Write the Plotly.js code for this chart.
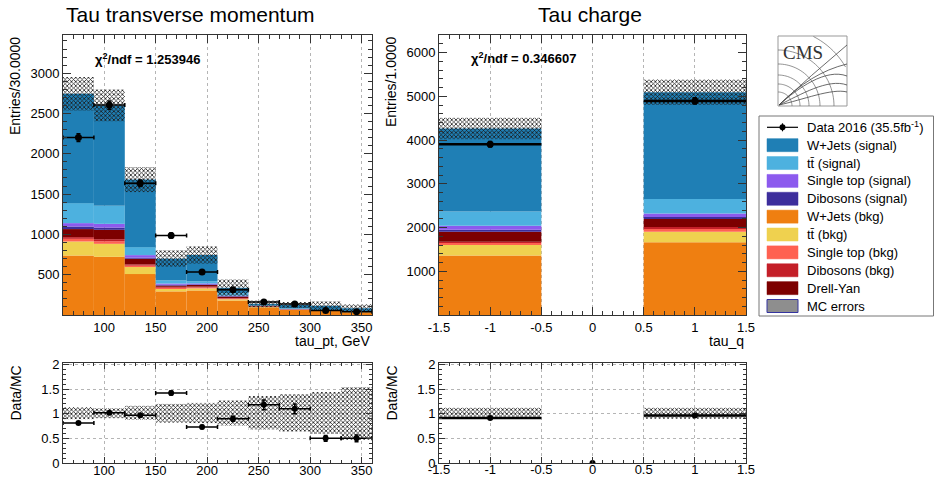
<!DOCTYPE html>
<html><head><meta charset="utf-8">
<script src="https://cdn.plot.ly/plotly-3.0.1.min.js"></script>
<style>html,body{margin:0;padding:0;background:#fff}#chart{width:934px;height:477px}</style>
</head><body><div id="chart"></div>
<script>
// ---------- tau_pt (bin centres, 30 GeV bins) ----------
const ptBins = [75,105,135,165,195,225,255,285,315,345];
const ptHalfWidth = [15,15,15,15,15,15,15,15,15,15];
const ptWjetsBkg = [738,722,508,293,305,180,95,62,50,35];
const ptTTbarBkg = [174,161,87,29,25,15,4,3,2,2];
const ptStopBkg  = [33,32,17,16,12,8,3,2,1,1];
const ptDibosBkg = [21,25,16,12,10,7,3,2,2,1];
const ptDY       = [100,117,70,15,20,18,6,3,2,2];
const ptDibosSig = [32,28,14,10,8,6,2,1,1,1];
const ptStopSig  = [42,46,31,15,12,6,2,2,1,1];
const ptTTbarSig = [248,223,99,40,26,30,6,6,4,3];
const ptWjetsSig = [1357,1246,838,270,327,68,17,43,51,38];
const ptMCErr    = [207,197,155,103,107,103,43,37,55,50];
const ptData     = [2201,2605,1635,987,533,313,160,136,57,41];
const ptDataErr  = [47,51,40,31,23,18,13,12,8,6];
const ptRatio    = [0.81,1.02,0.97,1.42,0.73,0.90,1.18,1.10,0.50,0.50];
const ptRatioErr = [0.02,0.02,0.03,0.04,0.03,0.05,0.10,0.10,0.06,0.07];
const ptBandLow  = [0.89,0.91,0.88,0.82,0.81,0.76,0.68,0.64,0.59,0.47];
const ptBandHigh = [1.135,1.11,1.16,1.20,1.22,1.27,1.36,1.40,1.44,1.54];

// ---------- tau_q ----------
const qBins = [-1,0,1];
const qHalfWidth = [0.5,0.5,0.5];
const qWjetsBkg = [1358,0,1662];
const qTTbarBkg = [244,0,244];
const qStopBkg  = [46,0,62];
const qDibosBkg = [30,0,46];
const qDY       = [228,0,182];
const qDibosSig = [46,0,44];
const qStopSig  = [91,0,84];
const qTTbarSig = [327,0,329];
const qWjetsSig = [1895,0,2442];
const qMCErr    = [248,0,290];
const qData     = [3907,0,4897];
const qDataErr  = [63,0,70];
const qRatio    = [0.916,0,0.962];
const qRatioErr = [0.02,0,0.02];
const qBandLow  = [0.90,0,0.90];
const qBandHigh = [1.12,0,1.12];

// ---------- labels ----------
const titles = ['Tau transverse momentum','Tau charge'];
const chi2Text = ['1.253946','0.346607'];
const yTitles = ['Entries/30.0000','Entries/1.0000'];
const xTitles = ['tau_pt, GeV','tau_q'];
const ratioTitle = 'Data/MC';
const dataLabel = 'Data 2016 (35.5fb<sup>-1</sup>)';
const errLabel = 'MC errors';
const qTickVals = [-1.5,-1,-0.5,0,0.5,1,1.5];
const qTickText = ['-1.5','-1','-0.5','0','0.5','1','1.5'];

// stack from bottom to top
const comps = [
  {name:'W+Jets (bkg)',       color:'#ef7f11', pt:ptWjetsBkg, q:qWjetsBkg},
  {name:'tt\u0304 (bkg)',     color:'#efd14f', pt:ptTTbarBkg, q:qTTbarBkg},
  {name:'Single top (bkg)',   color:'#ff6151', pt:ptStopBkg,  q:qStopBkg},
  {name:'Dibosons (bkg)',     color:'#c41f28', pt:ptDibosBkg, q:qDibosBkg},
  {name:'Drell-Yan',          color:'#7d0000', pt:ptDY,       q:qDY},
  {name:'Dibosons (signal)',  color:'#3d2e9c', pt:ptDibosSig, q:qDibosSig},
  {name:'Single top (signal)',color:'#8c5aee', pt:ptStopSig,  q:qStopSig},
  {name:'tt\u0304 (signal)',  color:'#4db1df', pt:ptTTbarSig, q:qTTbarSig},
  {name:'W+Jets (signal)',    color:'#1f7fb5', pt:ptWjetsSig, q:qWjetsSig}
];
const legendOrder = ['W+Jets (signal)','tt\u0304 (signal)','Single top (signal)','Dibosons (signal)',
  'W+Jets (bkg)','tt\u0304 (bkg)','Single top (bkg)','Dibosons (bkg)','Drell-Yan'];

const F = 'Liberation Sans, Arial, Helvetica, sans-serif';
const W = 934, H = 477;
const X = p => p / W, Y = p => 1 - p / H;
const hatch = {shape:'x', size:3, solidity:0.45, fillmode:'replace'};

const traces = [];
function addStack(key, bins, half, xa, ya) {
  const base = bins.map(() => 0);
  comps.forEach(c => {
    traces.push({type:'bar', x:bins, y:c[key], base:base.slice(), width:half.map(h=>2*h),
      xaxis:xa, yaxis:ya, name:c.name, marker:{color:c.color, line:{width:0}}, hoverinfo:'skip'});
    c[key].forEach((v,i) => base[i] += v);
  });
  return base;
}
// tau_pt main
const ptTot = addStack('pt', ptBins, ptHalfWidth, 'x', 'y');
traces.push({type:'bar', x:ptBins, base:ptTot.map((t,i)=>t-ptMCErr[i]), y:ptMCErr.map(e=>2*e),
  width:ptHalfWidth.map(h=>2*h), xaxis:'x', yaxis:'y', marker:{color:'#1a1a1a', line:{width:0}, pattern:hatch}});
traces.push({type:'scatter', mode:'markers', x:ptBins, y:ptData, xaxis:'x', yaxis:'y',
  marker:{color:'#000', size:7},
  error_y:{type:'data', array:ptDataErr, color:'#000', thickness:1.5, width:2},
  error_x:{type:'data', array:ptHalfWidth, color:'#000', thickness:1.5, width:2}});
// tau_q main
const qTot = addStack('q', qBins, qHalfWidth, 'x2', 'y2');
traces.push({type:'bar', x:qBins, base:qTot.map((t,i)=>t-qMCErr[i]), y:qMCErr.map(e=>2*e),
  width:qHalfWidth.map(h=>2*h), xaxis:'x2', yaxis:'y2', marker:{color:'#1a1a1a', line:{width:0}, pattern:hatch}});
const qIdx = qData.map((v,i)=>i).filter(i=>qData[i]>0);
traces.push({type:'scatter', mode:'markers', x:qIdx.map(i=>qBins[i]), y:qIdx.map(i=>qData[i]), xaxis:'x2', yaxis:'y2',
  marker:{color:'#000', size:7},
  error_y:{type:'data', array:qIdx.map(i=>qDataErr[i]), color:'#000', thickness:1.5, width:2},
  error_x:{type:'data', array:qIdx.map(i=>qHalfWidth[i]), color:'#000', thickness:2.5, width:0}});
// ratios
traces.push({type:'bar', x:ptBins, base:ptBandLow, y:ptBandHigh.map((h,i)=>h-ptBandLow[i]),
  width:ptHalfWidth.map(h=>2*h), xaxis:'x3', yaxis:'y3', marker:{color:'#1a1a1a', line:{width:0}, pattern:hatch}});
traces.push({type:'scatter', mode:'markers', x:ptBins, y:ptRatio, xaxis:'x3', yaxis:'y3',
  marker:{color:'#000', size:6},
  error_y:{type:'data', array:ptRatioErr, color:'#000', thickness:1.5, width:2},
  error_x:{type:'data', array:ptHalfWidth, color:'#000', thickness:1.5, width:2}});
traces.push({type:'bar', x:qBins, base:qBandLow, y:qBandHigh.map((h,i)=>h-qBandLow[i]),
  width:qHalfWidth.map(h=>2*h), xaxis:'x4', yaxis:'y4', marker:{color:'#1a1a1a', line:{width:0}, pattern:hatch}});
traces.push({type:'scatter', mode:'markers', x:qBins, y:qRatio, xaxis:'x4', yaxis:'y4',
  marker:{color:'#000', size:6},
  error_y:{type:'data', array:qRatioErr, color:'#000', thickness:1.5, width:2},
  error_x:{type:'data', array:qHalfWidth.map((h,i)=>qData[i]>0?h:0), color:'#000', thickness:2.5, width:0}});

function ax(o, len, mlen, minorD) {
  return Object.assign({
    showline:true, linecolor:'#333', linewidth:1, mirror:'ticks',
    ticks:'inside', ticklen:len, tickcolor:'#333', tickwidth:1,
    minor:{ticks:'inside', ticklen:mlen, tickcolor:'#333', tickmode:'linear', tick0:0, dtick:minorD, showgrid:false},
    zeroline:false, showgrid:false, gridcolor:'#b5b5b5', griddash:'dot', gridwidth:1,
    tickfont:{family:F, size:13, color:'#000'}, fixedrange:true
  }, o);
}
const layout = {
  width:W, height:H, margin:{l:0,r:0,t:0,b:0}, paper_bgcolor:'#fff', plot_bgcolor:'#fff',
  barmode:'overlay', showlegend:false, font:{family:F, size:13, color:'#000'},
  xaxis: ax({domain:[X(63),X(372)], anchor:'y', range:[60,360], tickmode:'linear', tick0:0, dtick:50, showgrid:true}, 8, 4, 10),
  yaxis: ax({domain:[Y(315),Y(35)], anchor:'x', range:[0,3474], tickmode:'array',
    tickvals:[0,500,1000,1500,2000,2500,3000], ticktext:['','500','1000','1500','2000','2500','3000']}, 8, 4, 100),
  xaxis2: ax({domain:[X(439),X(746)], anchor:'y2', range:[-1.5,1.5], tickmode:'array', tickvals:qTickVals, ticktext:qTickText, showgrid:true}, 8, 4, 0.1),
  yaxis2: ax({domain:[Y(315),Y(35)], anchor:'x2', range:[0,6404], tickmode:'array',
    tickvals:[0,1000,2000,3000,4000,5000,6000], ticktext:['','1000','2000','3000','4000','5000','6000']}, 8, 4, 200),
  xaxis3: ax({domain:[X(63),X(372)], anchor:'y3', range:[60,360], tickmode:'linear', tick0:0, dtick:50, showgrid:true, ticklabelstandoff:-5}, 6, 3, 10),
  yaxis3: ax({domain:[Y(463),Y(363)], anchor:'x3', range:[0,2.03], tickmode:'array',
    tickvals:[0,0.5,1,1.5,2], ticktext:['0','0.5','1','1.5','2'], showgrid:true}, 6, 3, 0.1),
  xaxis4: ax({domain:[X(439),X(746)], anchor:'y4', range:[-1.5,1.5], tickmode:'array', tickvals:qTickVals, ticktext:qTickText, showgrid:true, ticklabelstandoff:-6}, 6, 3, 0.1),
  yaxis4: ax({domain:[Y(463),Y(363)], anchor:'x4', range:[0,2.03], tickmode:'array',
    tickvals:[0,0.5,1,1.5,2], ticktext:['0','0.5','1','1.5','2'], showgrid:true}, 6, 3, 0.1)
};

const ann = [], shapes = [];
function text(x, y, t, o) {
  ann.push(Object.assign({xref:'paper', yref:'paper', x:X(x), y:Y(y), text:t, showarrow:false,
    xanchor:'center', yanchor:'middle', font:{family:F, size:13, color:'#000'}}, o||{}));
}
text(190, 15, titles[0], {font:{family:F, size:21, color:'#000'}});
text(590, 15, titles[1], {font:{family:F, size:21, color:'#000'}});
text(93, 59, '<b>\u03c7<sup>2</sup>/ndf = ' + chi2Text[0] + '</b>', {xanchor:'left'});
text(469, 58, '<b>\u03c7<sup>2</sup>/ndf = ' + chi2Text[1] + '</b>', {xanchor:'left'});
text(15, 35, yTitles[0], {textangle:-90, yanchor:'top', font:{family:F, size:14, color:'#000'}});
text(391, 35, yTitles[1], {textangle:-90, yanchor:'top', font:{family:F, size:14, color:'#000'}});
text(372, 341, xTitles[0], {xanchor:'right', font:{family:F, size:14, color:'#000'}});
text(746, 341, xTitles[1], {xanchor:'right', font:{family:F, size:14, color:'#000'}});
text(15, 364, ratioTitle, {textangle:-90, yanchor:'top', font:{family:F, size:14, color:'#000'}});
text(391, 364, ratioTitle, {textangle:-90, yanchor:'top', font:{family:F, size:14, color:'#000'}});

function rectPx(x0,y0,x1,y1,o){shapes.push(Object.assign({type:'rect',xref:'paper',yref:'paper',
  x0:X(x0),x1:X(x1),y0:Y(y0),y1:Y(y1)},o));}
function linePx(x0,y0,x1,y1,o){shapes.push(Object.assign({type:'line',xref:'paper',yref:'paper',
  x0:X(x0),x1:X(x1),y0:Y(y0),y1:Y(y1)},o));}
function pathPx(d,o){
  const s = d.map(seg => seg[0] + seg.slice(1).map((v,k)=> (k%2===0? X(v):Y(v)).toFixed(5)).join(',')).join(' ');
  shapes.push(Object.assign({type:'path',xref:'paper',yref:'paper',path:s},o));
}

// legend
rectPx(759,116,933.5,316,{line:{color:'#777',width:1},fillcolor:'#fff',layer:'above'});
const rowY = i => 127.3 + i*17.87;
linePx(767,rowY(0),798,rowY(0),{line:{color:'#000',width:1.2}});
linePx(782.5,rowY(0)-4,782.5,rowY(0)+4,{line:{color:'#000',width:1.2}});
shapes.push({type:'circle',xref:'paper',yref:'paper',x0:X(779.5),x1:X(785.5),y0:Y(rowY(0)+3),y1:Y(rowY(0)-3),
  fillcolor:'#000',line:{width:0}});
text(805, rowY(0), dataLabel, {xanchor:'left'});
legendOrder.forEach((nm,k) => {
  const c = comps.find(cc=>cc.name===nm), i = k+1;
  rectPx(767,rowY(i)-6.5,798,rowY(i)+6.5,{fillcolor:c.color,line:{color:c.color,width:0.5}});
  text(805, rowY(i), nm, {xanchor:'left'});
});
rectPx(767,rowY(10)-6.5,798,rowY(10)+6.5,{fillcolor:'#8e8e8e',line:{color:'#3434a0',width:1}});
text(805, rowY(10), errLabel, {xanchor:'left'});

// CMS logo
rectPx(778,36,847,106,{line:{color:'#999',width:1},fillcolor:'#fff'});
text(803, 52, 'CMS', {font:{family:'Liberation Serif, DejaVu Serif, serif', size:19, color:'#333'}});
[14,22,31,42,56,78].forEach(r => {
  const pts = [];
  for (let a=0; a<=90; a+=3) {
    const t = a*Math.PI/180, x = 778 + r*Math.cos(t), y = 106 - r*Math.sin(t);
    if (x <= 847 && y >= 36) pts.push([x,y]);
  }
  if (pts.length>1) pathPx(pts.map((p,i)=>[i?'L':'M',p[0],p[1]]),{line:{color:'#666',width:0.7}});
});
pathPx([['M',779,105],['Q',810,76,847,45]],{line:{color:'#444',width:0.8}});
pathPx([['M',779,105],['C',800,84,822,70,847,64]],{line:{color:'#444',width:0.8}});
pathPx([['M',779,105],['C',798,88,826,68,847,76]],{line:{color:'#444',width:0.8}});
pathPx([['M',779,105],['C',800,95,828,78,847,85]],{line:{color:'#444',width:0.8}});
pathPx([['M',779,105],['C',802,100,832,88,847,92]],{line:{color:'#444',width:0.8}});

layout.annotations = ann;
layout.shapes = shapes;
Plotly.newPlot('chart', traces, layout, {staticPlot:true, displayModeBar:false});
</script>
</body></html>
